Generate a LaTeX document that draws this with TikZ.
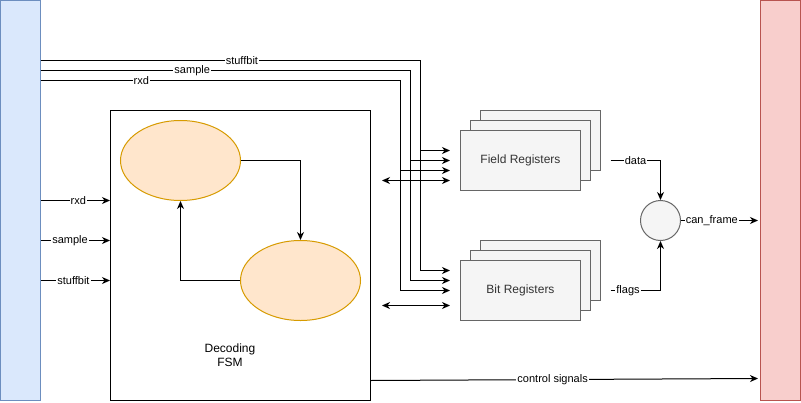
\documentclass[tikz,border=0pt]{standalone}
\usepackage{fontspec}
\setmainfont{Liberation Sans}
\usetikzlibrary{arrows.meta,shapes.geometric}
\definecolor{bluefill}{HTML}{DAE8FC}
\definecolor{bluedraw}{HTML}{6C8EBF}
\definecolor{redfill}{HTML}{F8CECC}
\definecolor{reddraw}{HTML}{B85450}
\definecolor{orfill}{HTML}{FFE6CC}
\definecolor{ordraw}{HTML}{D79B00}
\definecolor{grfill}{HTML}{F5F5F5}
\definecolor{grdraw}{HTML}{666666}
\definecolor{grtext}{HTML}{333333}
\tikzset{
  bar/.style={draw, rectangle, minimum width=40pt, minimum height=400pt, inner sep=0pt},
  fsmbox/.style={draw, rectangle, minimum width=260pt, minimum height=290pt, inner sep=0pt, fill=white},
  statenode/.style={draw=ordraw, fill=orfill, ellipse, minimum width=120pt, minimum height=80pt, inner sep=0pt},
  regbox/.style={draw=grdraw, fill=grfill, rectangle, minimum width=120pt, minimum height=60pt, inner sep=0pt, text=grtext, font=\fontsize{12pt}{14pt}\selectfont},
  mux/.style={draw=grdraw, fill=grfill, circle, minimum size=40pt, inner sep=0pt},
  lbl/.style={fill=white, inner sep=1pt, font=\fontsize{11pt}{13pt}\selectfont},
  wire/.style={line width=1pt, -{Stealth[length=8pt,width=7pt,inset=2.5pt]}},
  dwire/.style={line width=1pt, {Stealth[length=8pt,width=7pt,inset=2.5pt]}-{Stealth[length=8pt,width=7pt,inset=2.5pt]}},
}
\begin{document}
\begin{tikzpicture}[x=1pt,y=-1pt]
\useasboundingbox (0,0) rectangle (801,402);
% blocks
\node[bar, draw=bluedraw, fill=bluefill, line width=1pt] (src) at (20.5,200.5) {};
\node[bar, draw=reddraw, fill=redfill, line width=1pt] (dst) at (780.5,200.5) {};
\node[fsmbox, line width=1pt] (fsm) at (240.5,255.5) {};
\node[font=\fontsize{12pt}{14pt}\selectfont, align=center] (fsmlabel) at (230,355) {Decoding\\FSM};
\node[statenode, line width=1pt] (s1) at (180.5,160.5) {};
\node[statenode, line width=1pt] (s2) at (300.5,280.5) {};
% register stacks
\node[regbox, line width=1pt] (fr3) at (540.5,140.5) {};
\node[regbox, line width=1pt] (fr2) at (530.5,150.5) {};
\node[regbox, line width=1pt] (fr) at (520.5,160.5) {Field Registers};
\node[regbox, line width=1pt] (br3) at (540.5,270.5) {};
\node[regbox, line width=1pt] (br2) at (530.5,280.5) {};
\node[regbox, line width=1pt] (br) at (520.5,290.5) {Bit Registers};
\node[mux, line width=1pt] (mx) at (660.5,220.5) {};
% coordinates
\coordinate (oS) at (40.5,60.5);
\coordinate (oP) at (40.5,70.5);
\coordinate (oR) at (40.5,80.5);
\coordinate (fS) at (450,150.5);
\coordinate (fP) at (450,160.5);
\coordinate (fR) at (450,170.5);
\coordinate (fB) at (450,180.5);
\coordinate (fBl) at (382,180.5);
\coordinate (bS) at (450,270.5);
\coordinate (bP) at (450,280.5);
\coordinate (bR) at (450,290.5);
\coordinate (bB) at (450,305.5);
\coordinate (bBl) at (382,305.5);
\coordinate (jS) at (420.5,0);
\coordinate (jP) at (410.5,0);
\coordinate (jR) at (400.5,0);
\coordinate (dO) at (610.5,160.5);
\coordinate (fO) at (610.5,290.5);
\coordinate (cfEnd) at (758,220.5);
\coordinate (csStart) at (370.5,380.5);
\coordinate (csEnd) at (758,378.5);
% FSM transitions
\draw[wire] (s1.east) -| (s2.north);
\draw[wire] (s2.west) -| (s1.south);
% buses from source to registers
\draw[wire] (oS) -- node[lbl, pos=0.53] {stuffbit} (jS |- oS) -- (jS |- fS) -- (fS);
\draw[wire] (jS |- fS) -- (jS |- bS) -- (bS);
\draw[wire] (oP) -- node[lbl, pos=0.41] {sample} (jP |- oP) -- (jP |- fP) -- (fP);
\draw[wire] (jP |- fP) -- (jP |- bP) -- (bP);
\draw[wire] (oR) -- node[lbl, pos=0.28] {rxd} (jR |- oR) -- (jR |- fR) -- (fR);
\draw[wire] (jR |- fR) -- (jR |- bR) -- (bR);
\draw[dwire] (fBl) -- (fB);
\draw[dwire] (bBl) -- (bB);
% inputs to FSM
\draw[wire] (src.east |- 0,200.5) -- node[lbl, pos=0.54] {rxd} (fsm.west |- 0,200.5);
\draw[wire] (src.east |- 0,240.5) -- node[lbl, pos=0.42] {sample} (fsm.west |- 0,240.5);
\draw[wire] (src.east |- 0,280.5) -- node[lbl, pos=0.47] {stuffbit} (fsm.west |- 0,280.5);
% outputs
\draw[wire] (dO) -- node[lbl, pos=0.5] {data} (mx.north |- dO) -- (mx.north);
\draw[wire] (fO) -- node[lbl, pos=0.35] {flags} (mx.south |- fO) -- (mx.south);
\draw[wire] (mx.east) -- node[lbl, pos=0.4] {can\_frame} (cfEnd);
\draw[wire] (csStart) -- node[lbl, pos=0.47] {control signals} (csEnd);
\end{tikzpicture}
\end{document}
